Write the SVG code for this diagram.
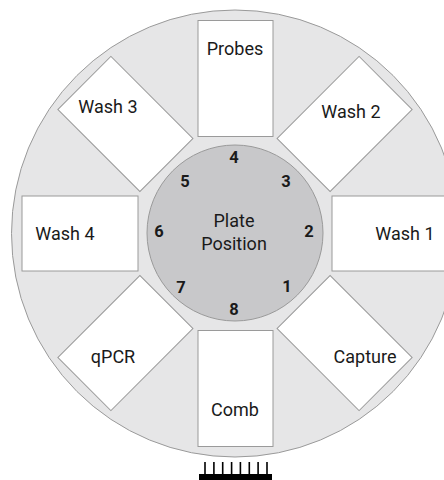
<svg xmlns="http://www.w3.org/2000/svg" width="444" height="480" viewBox="0 0 444 480">
<style>
.box{fill:#fff;stroke:#9a9a9a;stroke-width:1}
.lbl{font-family:Roboto,"Liberation Sans",sans-serif;font-size:18px;fill:#1a1a1a;text-anchor:middle}
.num{font-family:Roboto,"Liberation Sans",sans-serif;font-size:16.5px;font-weight:bold;fill:#1a1a1a;text-anchor:middle}
</style>
<rect width="444" height="480" fill="#fff"/>
<g id="wheel">
<circle cx="235" cy="233.5" r="223.5" fill="#e6e6e7" stroke="#9a9a9a" stroke-width="1"/>
</g>
<g id="probes"><rect class="box" x="198" y="20.5" width="75" height="116"/><text class="lbl" x="235" y="55">Probes</text></g>
<g id="comb"><rect class="box" x="198" y="330.5" width="75" height="116"/><text class="lbl" x="235" y="416">Comb</text></g>
<g id="wash4"><rect class="box" x="22" y="196" width="116" height="75"/><text class="lbl" x="65" y="240">Wash 4</text></g>
<g id="wash1"><rect class="box" x="332" y="196" width="116" height="75"/><text class="lbl" x="405" y="240">Wash 1</text></g>
<g id="wash2"><rect class="box" x="-37.5" y="-58" width="75" height="116" transform="translate(344.6 123.9) rotate(45)"/><text class="lbl" x="351" y="118">Wash 2</text></g>
<g id="wash3"><rect class="box" x="-37.5" y="-58" width="75" height="116" transform="translate(125.4 123.9) rotate(-45)"/><text class="lbl" x="108" y="113">Wash 3</text></g>
<g id="capture"><rect class="box" x="-37.5" y="-58" width="75" height="116" transform="translate(344.6 343.1) rotate(-45)"/><text class="lbl" x="365" y="363">Capture</text></g>
<g id="qpcr"><rect class="box" x="-37.5" y="-58" width="75" height="116" transform="translate(125.4 343.1) rotate(45)"/><text class="lbl" x="113" y="363">qPCR</text></g>
<g id="plate">
<circle cx="235" cy="233" r="88" fill="#c8c8ca" stroke="#9a9a9a" stroke-width="1"/>
<text class="lbl" x="234" y="227">Plate</text>
<text class="lbl" x="234" y="250">Position</text>
<text class="num" x="287" y="292">1</text>
<text class="num" x="309" y="237">2</text>
<text class="num" x="286" y="187">3</text>
<text class="num" x="234" y="163">4</text>
<text class="num" x="185" y="187">5</text>
<text class="num" x="159" y="237">6</text>
<text class="num" x="181" y="293">7</text>
<text class="num" x="234" y="315">8</text>
</g>
<g id="comb-symbol" stroke="#000">
<rect x="199" y="474" width="73" height="6" fill="#000" stroke="none"/>
<path d="M205 462V474M213.9 462V474M222.7 462V474M231.6 462V474M240.4 462V474M249.3 462V474M258.1 462V474M267 462V474" stroke-width="1.6"/>
</g>
</svg>
